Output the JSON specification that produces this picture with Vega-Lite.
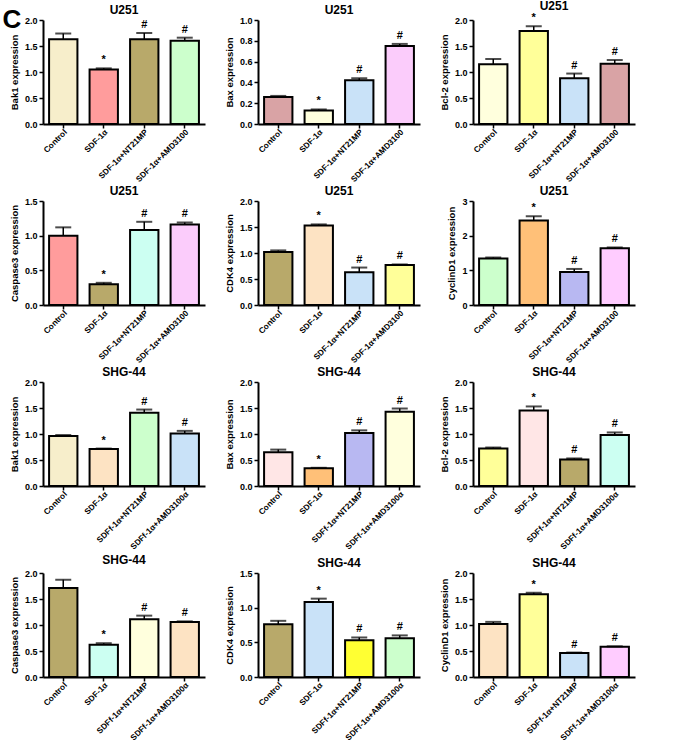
{
"$schema":"https://vega.github.io/schema/vega-lite/v6.json",
"padding":{"left":2,"top":0,"right":2,"bottom":0},
"background":"white",
"title":{"text":"C","anchor":"start","fontSize":26,"fontWeight":"bold","font":"Liberation Sans","offset":-33,"dx":-7,"frame":"bounds","color":"black"},
"datasets":{"d":[
{"panel":1,"group":"Control","value":1.63,"hi":1.74,"sig":""},
{"panel":1,"group":"SDF-1α","value":1.05,"hi":1.07,"sig":"*"},
{"panel":1,"group":"SDF-1α+NT21MP","value":1.63,"hi":1.75,"sig":"#"},
{"panel":1,"group":"SDF-1α+AMD3100","value":1.60,"hi":1.66,"sig":"#"},
{"panel":2,"group":"Control","value":0.26,"hi":0.27,"sig":""},
{"panel":2,"group":"SDF-1α","value":0.13,"hi":0.14,"sig":"*"},
{"panel":2,"group":"SDF-1α+NT21MP","value":0.42,"hi":0.44,"sig":"#"},
{"panel":2,"group":"SDF-1α+AMD3100","value":0.75,"hi":0.77,"sig":"#"},
{"panel":3,"group":"Control","value":1.15,"hi":1.25,"sig":""},
{"panel":3,"group":"SDF-1α","value":1.79,"hi":1.88,"sig":"*"},
{"panel":3,"group":"SDF-1α+NT21MP","value":0.88,"hi":0.97,"sig":"#"},
{"panel":3,"group":"SDF-1α+AMD3100","value":1.16,"hi":1.23,"sig":"#"},
{"panel":4,"group":"Control","value":1.00,"hi":1.12,"sig":""},
{"panel":4,"group":"SDF-1α","value":0.30,"hi":0.32,"sig":"*"},
{"panel":4,"group":"SDF-1α+NT21MP","value":1.08,"hi":1.20,"sig":"#"},
{"panel":4,"group":"SDF-1α+AMD3100","value":1.16,"hi":1.19,"sig":"#"},
{"panel":5,"group":"Control","value":1.02,"hi":1.05,"sig":""},
{"panel":5,"group":"SDF-1α","value":1.53,"hi":1.55,"sig":"*"},
{"panel":5,"group":"SDF-1α+NT21MP","value":0.63,"hi":0.72,"sig":"#"},
{"panel":5,"group":"SDF-1α+AMD3100","value":0.77,"hi":0.78,"sig":"#"},
{"panel":6,"group":"Control","value":1.34,"hi":1.37,"sig":""},
{"panel":6,"group":"SDF-1α","value":2.44,"hi":2.56,"sig":"*"},
{"panel":6,"group":"SDF-1α+NT21MP","value":0.95,"hi":1.04,"sig":"#"},
{"panel":6,"group":"SDF-1α+AMD3100","value":1.64,"hi":1.66,"sig":"#"},
{"panel":7,"group":"Control","value":0.96,"hi":0.98,"sig":""},
{"panel":7,"group":"SDF-1α","value":0.71,"hi":0.72,"sig":"*"},
{"panel":7,"group":"SDFf-1α+NT21MP","value":1.41,"hi":1.47,"sig":"#"},
{"panel":7,"group":"SDFf-1α+AMD3100α","value":1.01,"hi":1.06,"sig":"#"},
{"panel":8,"group":"Control","value":0.65,"hi":0.70,"sig":""},
{"panel":8,"group":"SDF-1α","value":0.34,"hi":0.35,"sig":"*"},
{"panel":8,"group":"SDFf-1α+NT21MP","value":1.02,"hi":1.07,"sig":"#"},
{"panel":8,"group":"SDFf-1α+AMD3100α","value":1.43,"hi":1.49,"sig":"#"},
{"panel":9,"group":"Control","value":0.72,"hi":0.74,"sig":""},
{"panel":9,"group":"SDF-1α","value":1.45,"hi":1.53,"sig":"*"},
{"panel":9,"group":"SDFf-1α+NT21MP","value":0.51,"hi":0.53,"sig":"#"},
{"panel":9,"group":"SDFf-1α+AMD3100α","value":0.98,"hi":1.03,"sig":"#"},
{"panel":10,"group":"Control","value":1.71,"hi":1.87,"sig":""},
{"panel":10,"group":"SDF-1α","value":0.62,"hi":0.65,"sig":"*"},
{"panel":10,"group":"SDFf-1α+NT21MP","value":1.11,"hi":1.18,"sig":"#"},
{"panel":10,"group":"SDFf-1α+AMD3100α","value":1.06,"hi":1.07,"sig":"#"},
{"panel":11,"group":"Control","value":0.76,"hi":0.81,"sig":""},
{"panel":11,"group":"SDF-1α","value":1.08,"hi":1.13,"sig":"*"},
{"panel":11,"group":"SDFf-1α+NT21MP","value":0.53,"hi":0.57,"sig":"#"},
{"panel":11,"group":"SDFf-1α+AMD3100α","value":0.56,"hi":0.60,"sig":"#"},
{"panel":12,"group":"Control","value":1.02,"hi":1.06,"sig":""},
{"panel":12,"group":"SDF-1α","value":1.59,"hi":1.62,"sig":"*"},
{"panel":12,"group":"SDFf-1α+NT21MP","value":0.46,"hi":0.47,"sig":"#"},
{"panel":12,"group":"SDFf-1α+AMD3100α","value":0.58,"hi":0.59,"sig":"#"}
]},
"data":{"name":"d"},
"columns":3,
"spacing":{"row":2,"column":19},
"resolve":{"scale":{"x":"independent","y":"independent","color":"independent"}},
"concat":[
{"width":162,"height":104,"title":"U251","transform":[{"filter":"datum.panel==1"}],
"encoding":{"x":{"field":"group","type":"nominal","sort":null,"title":null,"scale":{"paddingInner":0.3,"paddingOuter":0.15}}},
"layer":[
{"mark":{"type":"bar","stroke":"black","strokeWidth":2},"encoding":{"y":{"field":"value","type":"quantitative","scale":{"domain":[0,2],"nice":false},"axis":{"values":[0,0.5,1,1.5,2],"format":".1f","title":"Bak1 expression"}},"color":{"field":"group","type":"nominal","sort":null,"legend":null,"scale":{"range":["#f7eecb","#ff9c9c","#b8a96a","#ccffcc"]}}}},
{"mark":{"type":"rule","strokeWidth":1.5,"color":"black"},"encoding":{"y":{"field":"value","type":"quantitative","axis":{"values":[0,0.5,1,1.5,2],"format":".1f","title":"Bak1 expression"}},"y2":{"field":"hi"}}},
{"mark":{"type":"tick","thickness":2,"size":16,"color":"black"},"encoding":{"y":{"field":"hi","type":"quantitative","axis":{"values":[0,0.5,1,1.5,2],"format":".1f","title":"Bak1 expression"}}}},
{"mark":{"type":"text","dy":-8,"fontSize":11,"fontWeight":"bold","font":"Liberation Sans"},"encoding":{"y":{"field":"hi","type":"quantitative","axis":{"values":[0,0.5,1,1.5,2],"format":".1f","title":"Bak1 expression"}},"text":{"field":"sig"}}}
]},
{"width":162,"height":104,"title":"U251","transform":[{"filter":"datum.panel==2"}],
"encoding":{"x":{"field":"group","type":"nominal","sort":null,"title":null,"scale":{"paddingInner":0.3,"paddingOuter":0.15}}},
"layer":[
{"mark":{"type":"bar","stroke":"black","strokeWidth":2},"encoding":{"y":{"field":"value","type":"quantitative","scale":{"domain":[0,1],"nice":false},"axis":{"values":[0,0.2,0.4,0.6,0.8,1],"format":".1f","title":"Bax expression"}},"color":{"field":"group","type":"nominal","sort":null,"legend":null,"scale":{"range":["#d9a3a5","#ffffdd","#c9e2f8","#fbccfb"]}}}},
{"mark":{"type":"rule","strokeWidth":1.5,"color":"black"},"encoding":{"y":{"field":"value","type":"quantitative","axis":{"values":[0,0.2,0.4,0.6,0.8,1],"format":".1f","title":"Bax expression"}},"y2":{"field":"hi"}}},
{"mark":{"type":"tick","thickness":2,"size":16,"color":"black"},"encoding":{"y":{"field":"hi","type":"quantitative","axis":{"values":[0,0.2,0.4,0.6,0.8,1],"format":".1f","title":"Bax expression"}}}},
{"mark":{"type":"text","dy":-8,"fontSize":11,"fontWeight":"bold","font":"Liberation Sans"},"encoding":{"y":{"field":"hi","type":"quantitative","axis":{"values":[0,0.2,0.4,0.6,0.8,1],"format":".1f","title":"Bax expression"}},"text":{"field":"sig"}}}
]},
{"width":162,"height":104,"title":"U251","transform":[{"filter":"datum.panel==3"}],
"encoding":{"x":{"field":"group","type":"nominal","sort":null,"title":null,"scale":{"paddingInner":0.3,"paddingOuter":0.15}}},
"layer":[
{"mark":{"type":"bar","stroke":"black","strokeWidth":2},"encoding":{"y":{"field":"value","type":"quantitative","scale":{"domain":[0,2],"nice":false},"axis":{"values":[0,0.5,1,1.5,2],"format":".1f","title":"Bcl-2 expression"}},"color":{"field":"group","type":"nominal","sort":null,"legend":null,"scale":{"range":["#ffffdd","#ffff99","#c9e2f8","#d9a3a5"]}}}},
{"mark":{"type":"rule","strokeWidth":1.5,"color":"black"},"encoding":{"y":{"field":"value","type":"quantitative","axis":{"values":[0,0.5,1,1.5,2],"format":".1f","title":"Bcl-2 expression"}},"y2":{"field":"hi"}}},
{"mark":{"type":"tick","thickness":2,"size":16,"color":"black"},"encoding":{"y":{"field":"hi","type":"quantitative","axis":{"values":[0,0.5,1,1.5,2],"format":".1f","title":"Bcl-2 expression"}}}},
{"mark":{"type":"text","dy":-8,"fontSize":11,"fontWeight":"bold","font":"Liberation Sans"},"encoding":{"y":{"field":"hi","type":"quantitative","axis":{"values":[0,0.5,1,1.5,2],"format":".1f","title":"Bcl-2 expression"}},"text":{"field":"sig"}}}
]},
{"width":162,"height":104,"title":"U251","transform":[{"filter":"datum.panel==4"}],
"encoding":{"x":{"field":"group","type":"nominal","sort":null,"title":null,"scale":{"paddingInner":0.3,"paddingOuter":0.15}}},
"layer":[
{"mark":{"type":"bar","stroke":"black","strokeWidth":2},"encoding":{"y":{"field":"value","type":"quantitative","scale":{"domain":[0,1.5],"nice":false},"axis":{"values":[0,0.5,1,1.5],"format":".1f","title":"Caspase3 expression"}},"color":{"field":"group","type":"nominal","sort":null,"legend":null,"scale":{"range":["#ff9c9c","#b8a96a","#ccfff2","#fbccfb"]}}}},
{"mark":{"type":"rule","strokeWidth":1.5,"color":"black"},"encoding":{"y":{"field":"value","type":"quantitative","axis":{"values":[0,0.5,1,1.5],"format":".1f","title":"Caspase3 expression"}},"y2":{"field":"hi"}}},
{"mark":{"type":"tick","thickness":2,"size":16,"color":"black"},"encoding":{"y":{"field":"hi","type":"quantitative","axis":{"values":[0,0.5,1,1.5],"format":".1f","title":"Caspase3 expression"}}}},
{"mark":{"type":"text","dy":-8,"fontSize":11,"fontWeight":"bold","font":"Liberation Sans"},"encoding":{"y":{"field":"hi","type":"quantitative","axis":{"values":[0,0.5,1,1.5],"format":".1f","title":"Caspase3 expression"}},"text":{"field":"sig"}}}
]},
{"width":162,"height":104,"title":"U251","transform":[{"filter":"datum.panel==5"}],
"encoding":{"x":{"field":"group","type":"nominal","sort":null,"title":null,"scale":{"paddingInner":0.3,"paddingOuter":0.15}}},
"layer":[
{"mark":{"type":"bar","stroke":"black","strokeWidth":2},"encoding":{"y":{"field":"value","type":"quantitative","scale":{"domain":[0,2],"nice":false},"axis":{"values":[0,0.5,1,1.5,2],"format":".1f","title":"CDK4 expression"}},"color":{"field":"group","type":"nominal","sort":null,"legend":null,"scale":{"range":["#b8a96a","#fde3c3","#c9e2f8","#ffff99"]}}}},
{"mark":{"type":"rule","strokeWidth":1.5,"color":"black"},"encoding":{"y":{"field":"value","type":"quantitative","axis":{"values":[0,0.5,1,1.5,2],"format":".1f","title":"CDK4 expression"}},"y2":{"field":"hi"}}},
{"mark":{"type":"tick","thickness":2,"size":16,"color":"black"},"encoding":{"y":{"field":"hi","type":"quantitative","axis":{"values":[0,0.5,1,1.5,2],"format":".1f","title":"CDK4 expression"}}}},
{"mark":{"type":"text","dy":-8,"fontSize":11,"fontWeight":"bold","font":"Liberation Sans"},"encoding":{"y":{"field":"hi","type":"quantitative","axis":{"values":[0,0.5,1,1.5,2],"format":".1f","title":"CDK4 expression"}},"text":{"field":"sig"}}}
]},
{"width":162,"height":104,"title":"U251","transform":[{"filter":"datum.panel==6"}],
"encoding":{"x":{"field":"group","type":"nominal","sort":null,"title":null,"scale":{"paddingInner":0.3,"paddingOuter":0.15}}},
"layer":[
{"mark":{"type":"bar","stroke":"black","strokeWidth":2},"encoding":{"y":{"field":"value","type":"quantitative","scale":{"domain":[0,3],"nice":false},"axis":{"values":[0,1,2,3],"format":"d","title":"CyclinD1 expression"}},"color":{"field":"group","type":"nominal","sort":null,"legend":null,"scale":{"range":["#ccffcc","#ffc078","#b8b8f2","#ffccff"]}}}},
{"mark":{"type":"rule","strokeWidth":1.5,"color":"black"},"encoding":{"y":{"field":"value","type":"quantitative","axis":{"values":[0,1,2,3],"format":"d","title":"CyclinD1 expression"}},"y2":{"field":"hi"}}},
{"mark":{"type":"tick","thickness":2,"size":16,"color":"black"},"encoding":{"y":{"field":"hi","type":"quantitative","axis":{"values":[0,1,2,3],"format":"d","title":"CyclinD1 expression"}}}},
{"mark":{"type":"text","dy":-8,"fontSize":11,"fontWeight":"bold","font":"Liberation Sans"},"encoding":{"y":{"field":"hi","type":"quantitative","axis":{"values":[0,1,2,3],"format":"d","title":"CyclinD1 expression"}},"text":{"field":"sig"}}}
]},
{"width":162,"height":104,"title":"SHG-44","transform":[{"filter":"datum.panel==7"}],
"encoding":{"x":{"field":"group","type":"nominal","sort":null,"title":null,"scale":{"paddingInner":0.3,"paddingOuter":0.15}}},
"layer":[
{"mark":{"type":"bar","stroke":"black","strokeWidth":2},"encoding":{"y":{"field":"value","type":"quantitative","scale":{"domain":[0,2],"nice":false},"axis":{"values":[0,0.5,1,1.5,2],"format":".1f","title":"Bak1 expression"}},"color":{"field":"group","type":"nominal","sort":null,"legend":null,"scale":{"range":["#f7eecb","#fde3c3","#ccffcc","#c9e2f8"]}}}},
{"mark":{"type":"rule","strokeWidth":1.5,"color":"black"},"encoding":{"y":{"field":"value","type":"quantitative","axis":{"values":[0,0.5,1,1.5,2],"format":".1f","title":"Bak1 expression"}},"y2":{"field":"hi"}}},
{"mark":{"type":"tick","thickness":2,"size":16,"color":"black"},"encoding":{"y":{"field":"hi","type":"quantitative","axis":{"values":[0,0.5,1,1.5,2],"format":".1f","title":"Bak1 expression"}}}},
{"mark":{"type":"text","dy":-8,"fontSize":11,"fontWeight":"bold","font":"Liberation Sans"},"encoding":{"y":{"field":"hi","type":"quantitative","axis":{"values":[0,0.5,1,1.5,2],"format":".1f","title":"Bak1 expression"}},"text":{"field":"sig"}}}
]},
{"width":162,"height":104,"title":"SHG-44","transform":[{"filter":"datum.panel==8"}],
"encoding":{"x":{"field":"group","type":"nominal","sort":null,"title":null,"scale":{"paddingInner":0.3,"paddingOuter":0.15}}},
"layer":[
{"mark":{"type":"bar","stroke":"black","strokeWidth":2},"encoding":{"y":{"field":"value","type":"quantitative","scale":{"domain":[0,2],"nice":false},"axis":{"values":[0,0.5,1,1.5,2],"format":".1f","title":"Bax expression"}},"color":{"field":"group","type":"nominal","sort":null,"legend":null,"scale":{"range":["#ffe6e6","#ffc078","#b8b8f2","#ffffdd"]}}}},
{"mark":{"type":"rule","strokeWidth":1.5,"color":"black"},"encoding":{"y":{"field":"value","type":"quantitative","axis":{"values":[0,0.5,1,1.5,2],"format":".1f","title":"Bax expression"}},"y2":{"field":"hi"}}},
{"mark":{"type":"tick","thickness":2,"size":16,"color":"black"},"encoding":{"y":{"field":"hi","type":"quantitative","axis":{"values":[0,0.5,1,1.5,2],"format":".1f","title":"Bax expression"}}}},
{"mark":{"type":"text","dy":-8,"fontSize":11,"fontWeight":"bold","font":"Liberation Sans"},"encoding":{"y":{"field":"hi","type":"quantitative","axis":{"values":[0,0.5,1,1.5,2],"format":".1f","title":"Bax expression"}},"text":{"field":"sig"}}}
]},
{"width":162,"height":104,"title":"SHG-44","transform":[{"filter":"datum.panel==9"}],
"encoding":{"x":{"field":"group","type":"nominal","sort":null,"title":null,"scale":{"paddingInner":0.3,"paddingOuter":0.15}}},
"layer":[
{"mark":{"type":"bar","stroke":"black","strokeWidth":2},"encoding":{"y":{"field":"value","type":"quantitative","scale":{"domain":[0,2],"nice":false},"axis":{"values":[0,0.5,1,1.5,2],"format":".1f","title":"Bcl-2 expression"}},"color":{"field":"group","type":"nominal","sort":null,"legend":null,"scale":{"range":["#ffff99","#ffe6e6","#b8a96a","#ccfff2"]}}}},
{"mark":{"type":"rule","strokeWidth":1.5,"color":"black"},"encoding":{"y":{"field":"value","type":"quantitative","axis":{"values":[0,0.5,1,1.5,2],"format":".1f","title":"Bcl-2 expression"}},"y2":{"field":"hi"}}},
{"mark":{"type":"tick","thickness":2,"size":16,"color":"black"},"encoding":{"y":{"field":"hi","type":"quantitative","axis":{"values":[0,0.5,1,1.5,2],"format":".1f","title":"Bcl-2 expression"}}}},
{"mark":{"type":"text","dy":-8,"fontSize":11,"fontWeight":"bold","font":"Liberation Sans"},"encoding":{"y":{"field":"hi","type":"quantitative","axis":{"values":[0,0.5,1,1.5,2],"format":".1f","title":"Bcl-2 expression"}},"text":{"field":"sig"}}}
]},
{"width":162,"height":104,"title":"SHG-44","transform":[{"filter":"datum.panel==10"}],
"encoding":{"x":{"field":"group","type":"nominal","sort":null,"title":null,"scale":{"paddingInner":0.3,"paddingOuter":0.15}}},
"layer":[
{"mark":{"type":"bar","stroke":"black","strokeWidth":2},"encoding":{"y":{"field":"value","type":"quantitative","scale":{"domain":[0,2],"nice":false},"axis":{"values":[0,0.5,1,1.5,2],"format":".1f","title":"Caspase3 expression"}},"color":{"field":"group","type":"nominal","sort":null,"legend":null,"scale":{"range":["#b8a96a","#ccfff2","#ffffdd","#fde3c3"]}}}},
{"mark":{"type":"rule","strokeWidth":1.5,"color":"black"},"encoding":{"y":{"field":"value","type":"quantitative","axis":{"values":[0,0.5,1,1.5,2],"format":".1f","title":"Caspase3 expression"}},"y2":{"field":"hi"}}},
{"mark":{"type":"tick","thickness":2,"size":16,"color":"black"},"encoding":{"y":{"field":"hi","type":"quantitative","axis":{"values":[0,0.5,1,1.5,2],"format":".1f","title":"Caspase3 expression"}}}},
{"mark":{"type":"text","dy":-8,"fontSize":11,"fontWeight":"bold","font":"Liberation Sans"},"encoding":{"y":{"field":"hi","type":"quantitative","axis":{"values":[0,0.5,1,1.5,2],"format":".1f","title":"Caspase3 expression"}},"text":{"field":"sig"}}}
]},
{"width":162,"height":104,"title":"SHG-44","transform":[{"filter":"datum.panel==11"}],
"encoding":{"x":{"field":"group","type":"nominal","sort":null,"title":null,"scale":{"paddingInner":0.3,"paddingOuter":0.15}}},
"layer":[
{"mark":{"type":"bar","stroke":"black","strokeWidth":2},"encoding":{"y":{"field":"value","type":"quantitative","scale":{"domain":[0,1.5],"nice":false},"axis":{"values":[0,0.5,1,1.5],"format":".1f","title":"CDK4 expression"}},"color":{"field":"group","type":"nominal","sort":null,"legend":null,"scale":{"range":["#b8a96a","#c9e2f8","#ffff33","#ccffcc"]}}}},
{"mark":{"type":"rule","strokeWidth":1.5,"color":"black"},"encoding":{"y":{"field":"value","type":"quantitative","axis":{"values":[0,0.5,1,1.5],"format":".1f","title":"CDK4 expression"}},"y2":{"field":"hi"}}},
{"mark":{"type":"tick","thickness":2,"size":16,"color":"black"},"encoding":{"y":{"field":"hi","type":"quantitative","axis":{"values":[0,0.5,1,1.5],"format":".1f","title":"CDK4 expression"}}}},
{"mark":{"type":"text","dy":-8,"fontSize":11,"fontWeight":"bold","font":"Liberation Sans"},"encoding":{"y":{"field":"hi","type":"quantitative","axis":{"values":[0,0.5,1,1.5],"format":".1f","title":"CDK4 expression"}},"text":{"field":"sig"}}}
]},
{"width":162,"height":104,"title":"SHG-44","transform":[{"filter":"datum.panel==12"}],
"encoding":{"x":{"field":"group","type":"nominal","sort":null,"title":null,"scale":{"paddingInner":0.3,"paddingOuter":0.15}}},
"layer":[
{"mark":{"type":"bar","stroke":"black","strokeWidth":2},"encoding":{"y":{"field":"value","type":"quantitative","scale":{"domain":[0,2],"nice":false},"axis":{"values":[0,0.5,1,1.5,2],"format":".1f","title":"CyclinD1 expression"}},"color":{"field":"group","type":"nominal","sort":null,"legend":null,"scale":{"range":["#fde3c3","#ffff99","#c9e2f8","#ffccff"]}}}},
{"mark":{"type":"rule","strokeWidth":1.5,"color":"black"},"encoding":{"y":{"field":"value","type":"quantitative","axis":{"values":[0,0.5,1,1.5,2],"format":".1f","title":"CyclinD1 expression"}},"y2":{"field":"hi"}}},
{"mark":{"type":"tick","thickness":2,"size":16,"color":"black"},"encoding":{"y":{"field":"hi","type":"quantitative","axis":{"values":[0,0.5,1,1.5,2],"format":".1f","title":"CyclinD1 expression"}}}},
{"mark":{"type":"text","dy":-8,"fontSize":11,"fontWeight":"bold","font":"Liberation Sans"},"encoding":{"y":{"field":"hi","type":"quantitative","axis":{"values":[0,0.5,1,1.5,2],"format":".1f","title":"CyclinD1 expression"}},"text":{"field":"sig"}}}
]}
],
"config":{
"font":"Liberation Sans",
"view":{"stroke":null},
"title":{"font":"Liberation Sans","fontSize":12,"fontWeight":"bold","color":"black","offset":-1},
"axis":{"grid":false,"domainColor":"black","domainWidth":2,"tickColor":"black","tickWidth":1.5,"tickSize":4,"labelColor":"black","labelFont":"Liberation Sans","labelFontWeight":"bold","labelFontSize":9,"titleFont":"Liberation Sans","titleFontWeight":"bold","titleFontSize":9.5,"titleColor":"black","labelPadding":2,"titlePadding":5,"labelOverlap":false},
"axisX":{"labelAngle":-45,"labelAlign":"right","labelBaseline":"top","labelPadding":0,"labelFontSize":8.2},
"axisY":{"labelPadding":2,"labelOverlap":false,"labelFlush":false}
}
}
